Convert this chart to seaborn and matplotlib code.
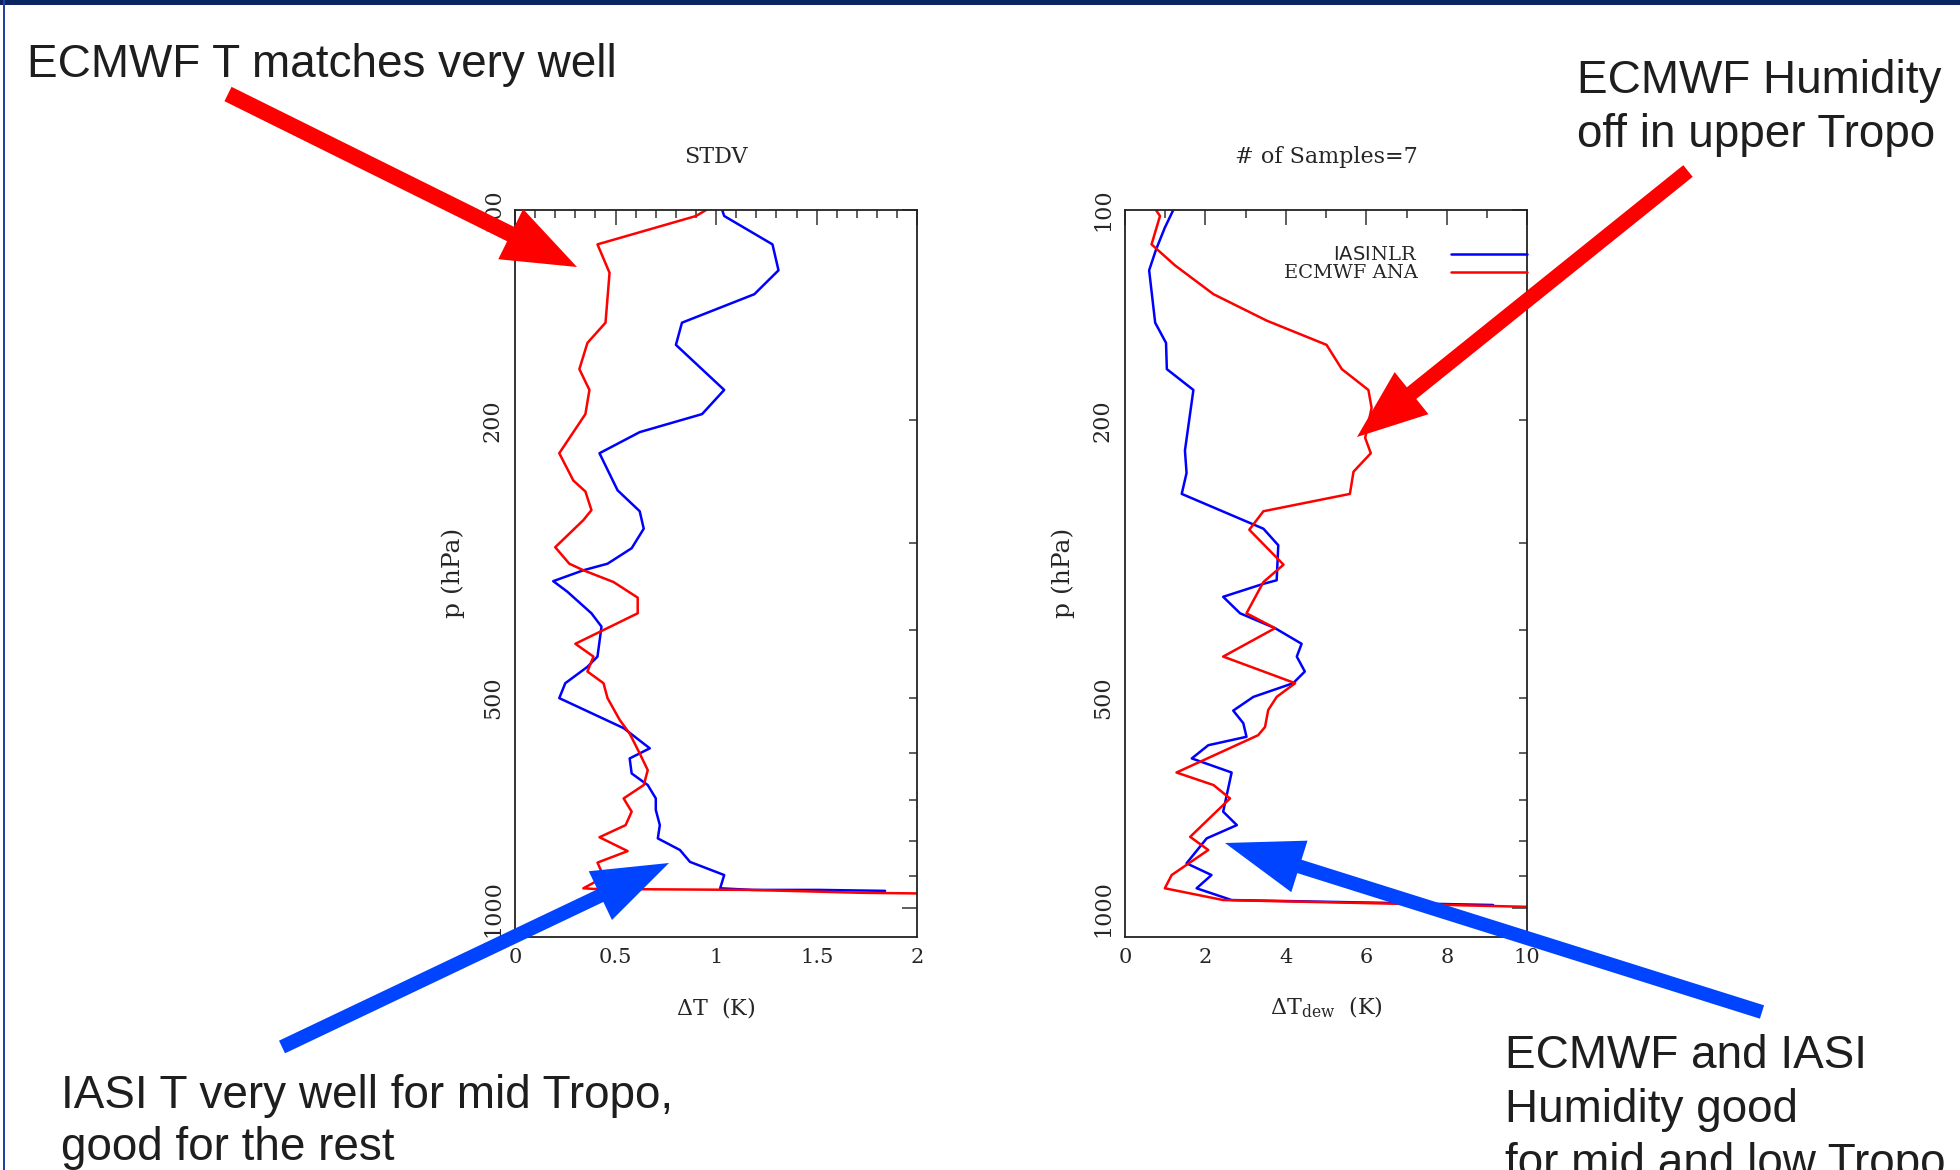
import numpy as np
import pandas as pd
import matplotlib
matplotlib.use("Agg")
import matplotlib.pyplot as plt
import seaborn as sns
from matplotlib.lines import Line2D
from matplotlib.patches import FancyArrow, Rectangle
from matplotlib.ticker import FixedLocator, FixedFormatter, NullFormatter

# ---------------- data ----------------
# Temperature STDV profiles (left panel)
p_t_iasi = [100, 102, 112, 122, 132, 145, 156, 181, 196, 208, 223, 252, 270, 286, 305,
            321, 328, 340, 352, 378, 395, 436, 451, 476, 500, 552, 590, 610, 641, 666,
            696, 723, 760, 794, 825, 858, 896, 936, 941, 941, 944]
dt_iasi = [1.03, 1.04, 1.28, 1.31, 1.19, 0.83, 0.80, 1.04, 0.93, 0.62, 0.42, 0.51, 0.62, 0.64, 0.58,
           0.46, 0.34, 0.19, 0.26, 0.38, 0.43, 0.41, 0.36, 0.25, 0.22, 0.54, 0.67, 0.57, 0.58, 0.66,
           0.70, 0.70, 0.72, 0.71, 0.82, 0.87, 1.04, 1.02, 1.18, 1.51, 1.84]
p_t_ecmwf = [100, 102, 112, 123, 145, 155, 169, 181, 196, 223, 244, 253, 269, 278, 304,
             321, 328, 341, 359, 378, 418, 436, 458, 476, 500, 537, 562, 600, 634, 666,
             696, 727, 760, 791, 828, 860, 886, 916, 936, 938, 941, 950, 952]
dt_ecmwf = [0.95, 0.90, 0.41, 0.47, 0.45, 0.36, 0.32, 0.37, 0.35, 0.22, 0.29, 0.35, 0.38, 0.34, 0.20,
            0.27, 0.34, 0.49, 0.61, 0.61, 0.30, 0.39, 0.36, 0.44, 0.46, 0.52, 0.57, 0.62, 0.66, 0.64,
            0.54, 0.58, 0.55, 0.42, 0.56, 0.41, 0.43, 0.40, 0.34, 0.39, 1.17, 1.72, 2.0]

# Dew-point STDV profiles (right panel)
p_td_iasi = [100, 106, 114, 122, 145, 155, 169, 181, 221, 238, 255,
             286, 302, 339, 343, 358, 378, 397, 418, 436, 458, 476, 498, 521, 543, 568,
             584, 610, 639, 727, 760, 794, 862, 896, 936, 973, 982, 989]
dtd_iasi = [1.20, 0.99, 0.77, 0.60, 0.75, 1.02, 1.04, 1.70, 1.49, 1.53, 1.41,
            3.44, 3.81, 3.77, 3.44, 2.44, 2.86, 3.73, 4.39, 4.27, 4.47, 4.18, 3.19, 2.69, 2.94, 3.02,
            2.07, 1.66, 2.65, 2.44, 2.78, 2.03, 1.53, 2.15, 1.78, 2.65, 6.42, 9.15]
p_td_ecmwf = [100, 102, 112, 120, 132, 144, 156, 169, 181, 192, 212, 223, 237, 255, 270,
              287, 322, 341, 378, 397, 436, 476, 498, 520, 550, 565, 639, 666, 696, 790,
              825, 896, 936, 973, 984, 995]
dtd_ecmwf = [0.77, 0.87, 0.66, 1.24, 2.20, 3.52, 5.01, 5.39, 6.05, 6.13, 5.97, 6.11, 5.68, 5.59, 3.44,
             3.09, 3.94, 3.44, 3.02, 3.73, 2.44, 4.23, 3.77, 3.56, 3.48, 3.31, 1.28, 2.20, 2.61, 1.62,
             2.07, 1.16, 0.99, 2.44, 6.42, 10.0]

series_names = ["IASI NLR", "ECMWF ANA"]
legend_labels = [r"$\mathsf{IASI}$NLR", "ECMWF ANA"]
series_colors = {"IASI NLR": "#0000ff", "ECMWF ANA": "#ff0000"}
panel_titles = ["STDV", "# of Samples=7"]
x_labels = [r"$\Delta$T  (K)", r"$\Delta$T$_{\rm dew}$  (K)"]
y_label = "p (hPa)"
p_tick_values = [100, 200, 500, 1000]
p_tick_labels = ["100", "200", "500", "1000"]
p_minor_values = [300, 400, 600, 700, 800, 900]
x_ticks_left = [0, 0.5, 1, 1.5, 2]
x_ticklabels_left = ["0", "0.5", "1", "1.5", "2"]
x_ticks_right = [0, 2, 4, 6, 8, 10]
x_ticklabels_right = ["0", "2", "4", "6", "8", "10"]

note_top_left = ["ECMWF T matches very well"]
note_top_right = ["ECMWF Humidity", "off in upper Tropo"]
note_bottom_left = ["IASI T very well for mid Tropo,", "good for the rest"]
note_bottom_right = ["ECMWF and IASI", "Humidity good", "for mid and low Tropo"]

# ---------------- figure ----------------
sns.set_theme(style="white")
plt.rcParams["font.family"] = ["DejaVu Serif"]
plt.rcParams["mathtext.fontset"] = "dejavuserif"
plt.rcParams["axes.unicode_minus"] = False

W, H = 1960, 1170
fig = plt.figure(figsize=(W / 100, H / 100), dpi=100, facecolor="white")

def px_axes(x0, y0, x1, y1):
    return fig.add_axes([x0 / W, 1 - y1 / H, (x1 - x0) / W, (y1 - y0) / H])

ax1 = px_axes(515, 210, 917.3, 936.7)
ax2 = px_axes(1125, 210, 1527.3, 936.7)

df_t = pd.DataFrame({
    "p": p_t_iasi + p_t_ecmwf,
    "d": dt_iasi + dt_ecmwf,
    "src": [series_names[0]] * len(p_t_iasi) + [series_names[1]] * len(p_t_ecmwf),
})
df_td = pd.DataFrame({
    "p": p_td_iasi + p_td_ecmwf,
    "d": dtd_iasi + dtd_ecmwf,
    "src": [series_names[0]] * len(p_td_iasi) + [series_names[1]] * len(p_td_ecmwf),
})

for ax, df in ((ax1, df_t), (ax2, df_td)):
    sns.lineplot(data=df, x="d", y="p", hue="src", hue_order=series_names,
                 palette=series_colors, sort=False, estimator=None,
                 linewidth=1.8, legend=False, ax=ax)

def style_axes(ax, xlim, xt, xtl, xminor, title, xlabel):
    ax.set_yscale("log")
    ax.set_ylim(1098, 100)
    ax.set_xlim(*xlim)
    ax.yaxis.set_major_locator(FixedLocator(p_tick_values))
    ax.yaxis.set_major_formatter(FixedFormatter(p_tick_labels))
    ax.yaxis.set_minor_locator(FixedLocator(p_minor_values))
    ax.yaxis.set_minor_formatter(NullFormatter())
    ax.xaxis.set_major_locator(FixedLocator(xt))
    ax.xaxis.set_major_formatter(FixedFormatter(xtl))
    ax.xaxis.set_minor_locator(FixedLocator(xminor))
    for s in ax.spines.values():
        s.set_color("#222222")
        s.set_linewidth(1.3)
    ax.tick_params(axis="both", which="both", direction="in", top=True, right=True,
                   color="#333333", width=1.1)
    ax.tick_params(axis="x", which="major", length=11, labelsize=15, pad=8)
    ax.tick_params(axis="x", which="minor", length=6)
    ax.tick_params(axis="y", which="major", length=6, labelsize=16, pad=8)
    ax.tick_params(axis="y", which="minor", length=6)
    for lab in ax.get_yticklabels():
        lab.set_rotation(90)
        lab.set_va("center")
    for t in ax.yaxis.get_major_ticks():
        if t.get_loc() in (100, 1000):
            t.tick1line.set_markersize(11)
            t.tick2line.set_markersize(11)
    ax.set_title(title, fontsize=16, pad=34)
    ax.set_xlabel(xlabel, fontsize=16, labelpad=20)
    ax.set_ylabel(y_label, fontsize=18, labelpad=12)
    ax.grid(False)

style_axes(ax1, (0, 2), x_ticks_left, x_ticklabels_left,
           list(np.round(np.arange(0, 2.01, 0.1), 1)), panel_titles[0], x_labels[0])
style_axes(ax2, (0, 10), x_ticks_right, x_ticklabels_right,
           list(range(0, 11)), panel_titles[1], x_labels[1])

handles = [Line2D([], [], color=series_colors[n], lw=1.8) for n in series_names]
ax2.legend(handles, legend_labels, loc="upper right", bbox_to_anchor=(1.0, 0.950),
           frameon=False, markerfirst=False, fontsize=14, handlelength=3.9,
           handletextpad=1.75, labelspacing=0.0, borderpad=0, borderaxespad=0)

# ---------------- overlay: frame, notes and arrows ----------------
ov = fig.add_axes([0, 0, 1, 1], zorder=10)
ov.set_xlim(0, W)
ov.set_ylim(H, 0)
ov.axis("off")
ov.patch.set_alpha(0)

ov.add_patch(Rectangle((0, 0), W, 5, color="#0b2462", lw=0))
ov.add_patch(Rectangle((3, 0), 2, H, color="#2342a8", lw=0))

txt_kw = dict(fontsize=33, color="#1e1e1e", family=["Liberation Sans", "DejaVu Sans"],
              ha="left", va="baseline")
ov.text(27, 77, note_top_left[0], **txt_kw)
for i, line in enumerate(note_top_right):
    ov.text(1577, 93 + 54 * i, line, **txt_kw)
for i, line in enumerate(note_bottom_left):
    ov.text(61, 1108 + 52 * i, line, **txt_kw)
for i, line in enumerate(note_bottom_right):
    ov.text(1505, 1068 + 54 * i, line, **txt_kw)

def arrow(tail, tip, color, width, hw, hl):
    ov.add_patch(FancyArrow(tail[0], tail[1], tip[0] - tail[0], tip[1] - tail[1],
                            width=width, head_width=hw, head_length=hl,
                            length_includes_head=True, color=color, lw=0))

arrow((228, 94), (577, 267), "#ff0000", 16, 56, 74)
arrow((1688, 171), (1357, 437), "#ff0000", 15, 54, 70)
arrow((282, 1047), (669, 863), "#0044ff", 14, 54, 76)
arrow((1762, 1012), (1225, 843), "#0044ff", 14, 54, 78)

fig.savefig("out.png", dpi=100, facecolor="white")
